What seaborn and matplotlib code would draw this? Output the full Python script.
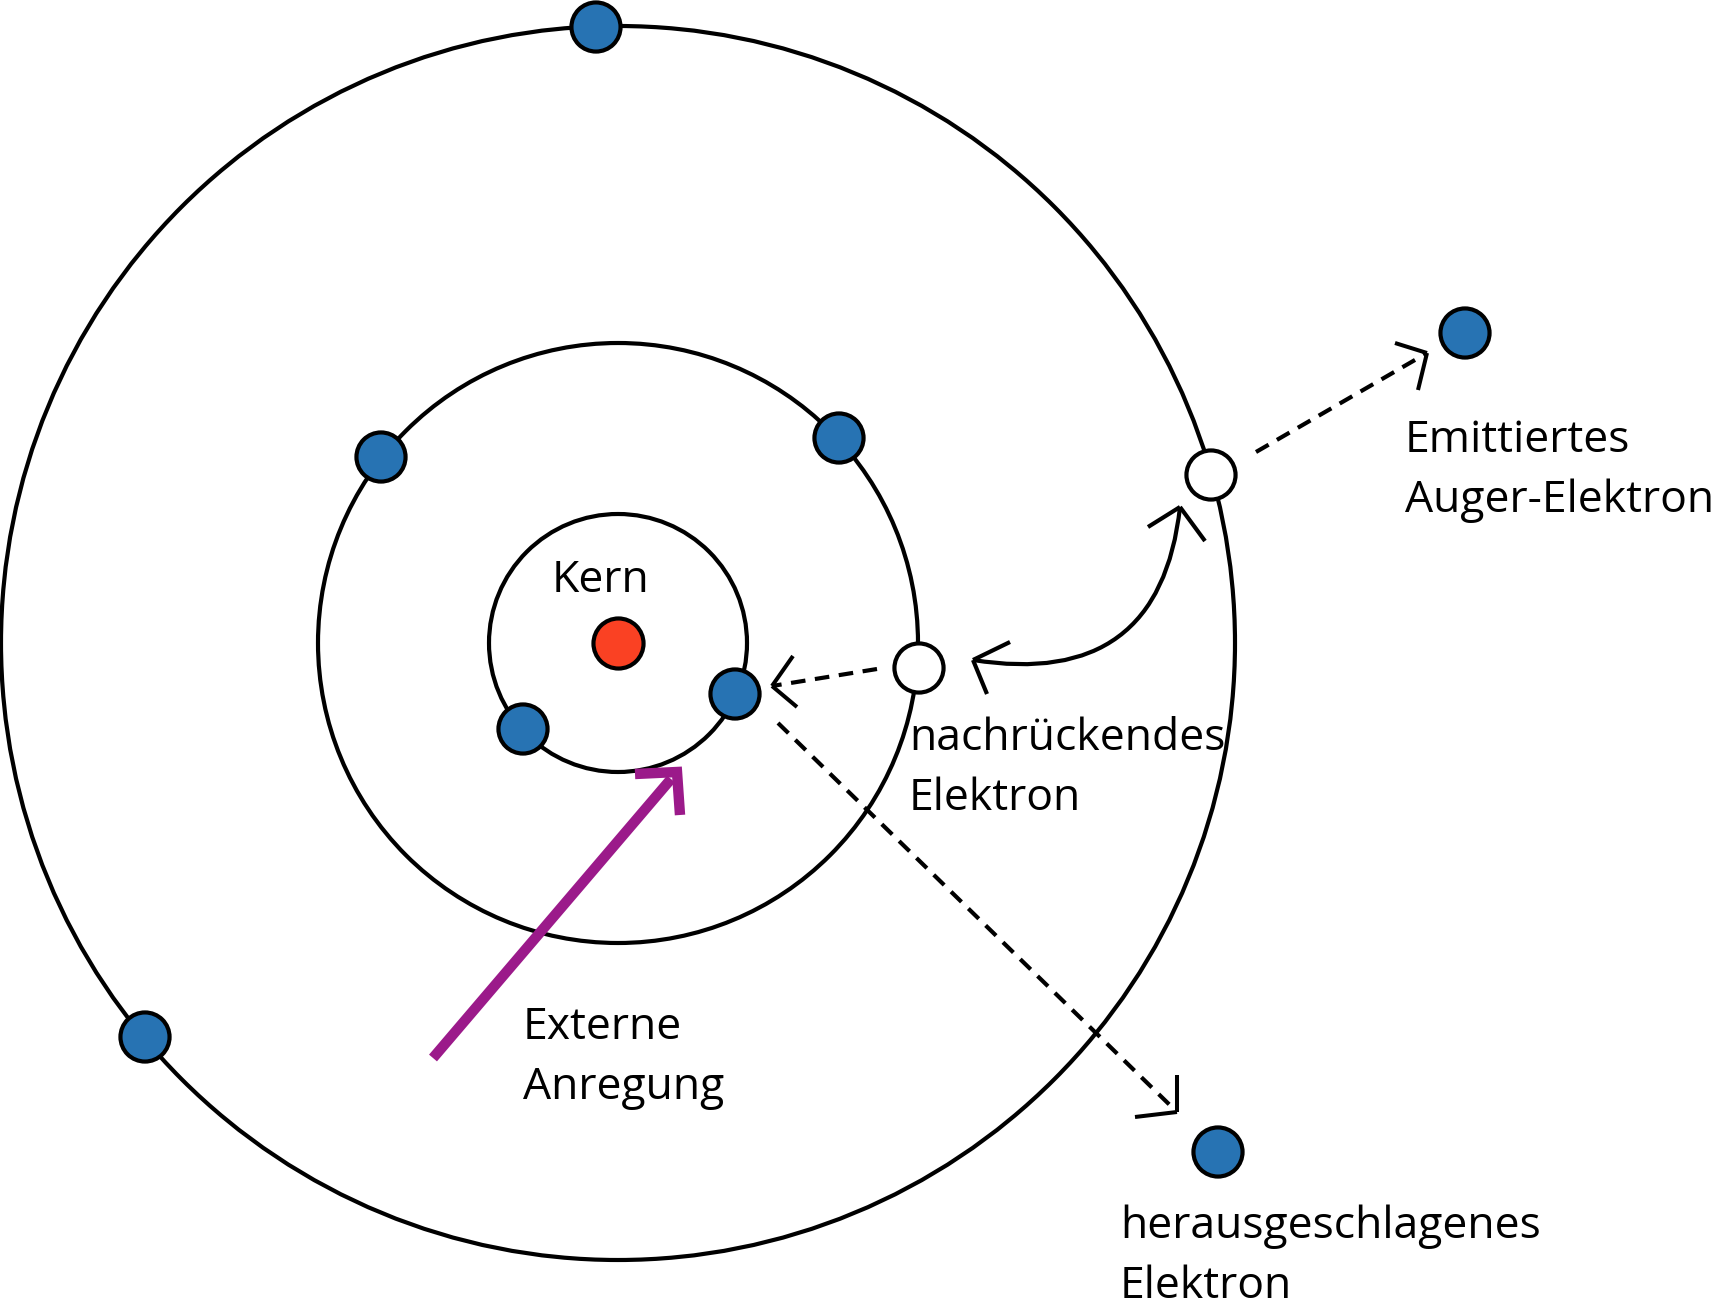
import numpy as np
import pandas as pd
import matplotlib
matplotlib.use('Agg')
import matplotlib.pyplot as plt
from matplotlib.patches import Circle, PathPatch
from matplotlib.path import Path
import seaborn as sns

# atom layout, in pixel units of the picture (y grows downwards)
nucleus = (618, 643)
orbit_radii = [129, 300, 617]

electron_x = [596, 145, 381, 839, 523, 735, 1465, 1218, 919, 1211]
electron_y = [27, 1037, 457, 438, 729, 694, 333, 1152, 668, 475]
electron_kind = ['bound'] * 6 + ['free'] * 2 + ['hole'] * 2

# dashed transitions: start, tip, two arms of the open head
dashed_start = [(877, 669), (778, 723), (1256, 452)]
dashed_tip = [(772, 686), (1177, 1112), (1427, 353)]
dashed_arms = [[(793, 656), (797, 707)],
               [(1177, 1075), (1135, 1117)],
               [(1395, 343), (1418, 390)]]

# curved arrow (quadratic curve) with heads at both ends
curve_pts = [(1180, 507), (1160, 690), (973, 660)]
curve_arms = [[(1148, 527), (1205, 541)], [(1010, 642), (987, 694)]]

# external excitation
excite_start = (433, 1058)
excite_tip = (677, 772)
excite_arms = [(635, 774), (680, 815)]

labels = ['Kern', 'Emittiertes\nAuger-Elektron', 'nachrückendes\nElektron',
          'Externe\nAnregung', 'herausgeschlagenes\nElektron']
label_pos = [(552, 592), (1405, 452), (909, 750), (523, 1039), (1120, 1238)]

BLUE = '#2773b3'
RED = '#fa4123'
PURPLE = '#9b1a8a'

sns.set_theme(style='white')
plt.rcParams['font.family'] = ['Open Sans', 'DejaVu Sans']

fig = plt.figure(figsize=(17.19, 13.12), dpi=100)
ax = fig.add_axes([0, 0, 1, 1])

for r in orbit_radii:
    ax.add_patch(Circle(nucleus, r, fill=False, ec='black', lw=3.0, zorder=1))

# dashed arrows
for s, t, arms in zip(dashed_start, dashed_tip, dashed_arms):
    ax.plot([s[0], t[0]], [s[1], t[1]], color='black', lw=3.0,
            linestyle=(0, (3.5, 2.3)), zorder=2)
    for a in arms:
        ax.plot([a[0], t[0]], [a[1], t[1]], color='black', lw=2.9,
                solid_capstyle='butt', zorder=2)

# curved arrow
path = Path(curve_pts, [Path.MOVETO, Path.CURVE3, Path.CURVE3])
ax.add_patch(PathPatch(path, fill=False, ec='black', lw=3.0, zorder=2))
for end, arms in zip([curve_pts[0], curve_pts[2]], curve_arms):
    for a in arms:
        ax.plot([a[0], end[0]], [a[1], end[1]], color='black', lw=3.0,
                solid_capstyle='butt', zorder=2)

# external excitation arrow
ax.plot([excite_start[0], excite_tip[0] - 6], [excite_start[1], excite_tip[1] + 7],
        color=PURPLE, lw=7.5, solid_capstyle='butt', zorder=3)
ax.plot([excite_arms[0][0], excite_tip[0], excite_arms[1][0]],
        [excite_arms[0][1], excite_tip[1], excite_arms[1][1]],
        color=PURPLE, lw=7.5, solid_capstyle='butt', solid_joinstyle='miter', zorder=3)

# electrons, holes and nucleus
df = pd.DataFrame({'x': electron_x, 'y': electron_y, 'kind': electron_kind})
sns.scatterplot(data=df, x='x', y='y', hue='kind',
                palette={'bound': BLUE, 'free': BLUE, 'hole': 'white'},
                s=1250, edgecolor='black', linewidth=3, legend=False,
                ax=ax, zorder=4)
ax.scatter([nucleus[0]], [nucleus[1]], s=1300, color=RED, edgecolor='black',
           linewidth=3, zorder=4)
ax.set_xlim(0, 1719)
ax.set_ylim(1312, 0)
ax.set_aspect('equal')
ax.axis('off')

for txt, (x, y) in zip(labels, label_pos):
    for i, line in enumerate(txt.split('\n')):
        ax.text(x, y + i * 60, line, fontsize=32, ha='left', va='baseline',
                color='black', zorder=5)

fig.savefig('out.png', dpi=100)
